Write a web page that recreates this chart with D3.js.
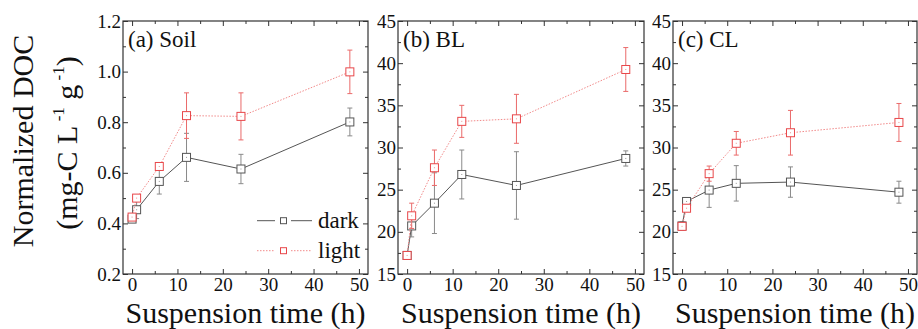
<!DOCTYPE html>
<html>
<head>
<meta charset="utf-8">
<script src="https://cdn.jsdelivr.net/npm/d3@7"></script>
<style>
  body { margin: 0; background: #fff; }
  svg { display: block; font-family: "Liberation Serif", "Times New Roman", serif; }
  .tick text { font-size: 19px; fill: #111; }
  .tick line { stroke: #333; }
</style>
</head>
<body>
<div id="chart"></div>
<script>
// sampling times (h)
const times = [0, 1, 6, 12, 24, 48];
const panelTitles = ["(a) Soil", "(b) BL", "(c) CL"];
const seriesNames = ["dark", "light"];

// normalized DOC
const soilDark = [0.417, 0.454, 0.566, 0.661, 0.615, 0.801];
const soilDarkErr = [0.01, 0.035, 0.05, 0.095, 0.058, 0.055];
const soilLight = [0.425, 0.5, 0.625, 0.826, 0.823, 0.999];
const soilLightErr = [0.01, 0.012, 0.015, 0.09, 0.093, 0.086];

const blDark = [17.2, 20.7, 23.4, 26.8, 25.5, 28.7];
const blDarkErr = [0.2, 1.3, 3.6, 2.9, 4.0, 0.9];
const blLight = [17.2, 21.9, 27.6, 33.1, 33.4, 39.25];
const blLightErr = [0.2, 1.5, 2.1, 1.9, 2.9, 2.6];

const clDark = [20.7, 23.6, 24.95, 25.75, 25.9, 24.7];
const clDarkErr = [0.5, 0.3, 2.05, 2.1, 1.8, 1.3];
const clLight = [20.65, 22.8, 26.9, 30.5, 31.75, 32.97];
const clLightErr = [0.3, 0.4, 0.9, 1.4, 2.65, 2.25];

// tick labels
const timeTicks = [0, 10, 20, 30, 40, 50];
const timeMinor = [5, 15, 25, 35, 45];
const soilTicks = [0.2, 0.4, 0.6, 0.8, 1.0, 1.2];
const soilMinor = [0.3, 0.5, 0.7, 0.9, 1.1];
const docTicks = [15, 20, 25, 30, 35, 40, 45];
const docMinor = [17.5, 22.5, 27.5, 32.5, 37.5, 42.5];

const W = 918, H = 329;
const plotTop = 21, plotBottom = 274;

const panels = [
  { title: panelTitles[0], x0: 123, x1: 368, domain: [0.2, 1.2], ticks: soilTicks, minor: soilMinor, fmt: d3.format(".1f"),
    dark: soilDark, darkErr: soilDarkErr, light: soilLight, lightErr: soilLightErr, legend: true },
  { title: panelTitles[1], x0: 398, x1: 644, domain: [15, 45], ticks: docTicks, minor: docMinor, fmt: d3.format("d"),
    dark: blDark, darkErr: blDarkErr, light: blLight, lightErr: blLightErr },
  { title: panelTitles[2], x0: 673, x1: 917, domain: [15, 45], ticks: docTicks, minor: docMinor, fmt: d3.format("d"),
    dark: clDark, darkErr: clDarkErr, light: clLight, lightErr: clLightErr }
];

const style = {
  dark: { line: "#555", dash: null, marker: "#555", err: "#8a8a8a" },
  light: { line: "#f28a8a", dash: "1.5,1.5", marker: "#e8474a", err: "#ea6a6a" }
};

const svg = d3.select("#chart").append("svg")
  .attr("width", W).attr("height", H);

panels.forEach(p => {
  const x = d3.scaleLinear().domain([-2, 52]).range([p.x0, p.x1]);
  const y = d3.scaleLinear().domain(p.domain).range([plotBottom, plotTop]);
  const g = svg.append("g");

  // axes: major + minor ticks on all four sides, pointing inward
  g.append("g").attr("transform", `translate(0,${plotBottom})`)
    .call(d3.axisBottom(x).tickValues(timeTicks).tickSize(-5).tickPadding(4))
    .call(a => a.select(".domain").remove());
  g.append("g").attr("transform", `translate(0,${plotBottom})`)
    .call(d3.axisBottom(x).tickValues(timeMinor).tickSize(-3).tickFormat(""))
    .call(a => a.select(".domain").remove());
  g.append("g").attr("transform", `translate(0,${plotTop})`)
    .call(d3.axisTop(x).tickValues(timeTicks).tickSize(-5).tickFormat(""))
    .call(a => a.select(".domain").remove());
  g.append("g").attr("transform", `translate(0,${plotTop})`)
    .call(d3.axisTop(x).tickValues(timeMinor).tickSize(-3).tickFormat(""))
    .call(a => a.select(".domain").remove());

  g.append("g").attr("transform", `translate(${p.x0},0)`)
    .call(d3.axisLeft(y).tickValues(p.ticks).tickSize(-5).tickPadding(2).tickFormat(p.fmt))
    .call(a => a.select(".domain").remove());
  g.append("g").attr("transform", `translate(${p.x0},0)`)
    .call(d3.axisLeft(y).tickValues(p.minor).tickSize(-3).tickFormat(""))
    .call(a => a.select(".domain").remove());
  g.append("g").attr("transform", `translate(${p.x1},0)`)
    .call(d3.axisRight(y).tickValues(p.ticks).tickSize(-5).tickFormat(""))
    .call(a => a.select(".domain").remove());
  g.append("g").attr("transform", `translate(${p.x1},0)`)
    .call(d3.axisRight(y).tickValues(p.minor).tickSize(-3).tickFormat(""))
    .call(a => a.select(".domain").remove());

  g.selectAll(".tick text").attr("font-family", "Liberation Serif");

  // frame
  g.append("rect")
    .attr("x", p.x0).attr("y", plotTop)
    .attr("width", p.x1 - p.x0).attr("height", plotBottom - plotTop)
    .attr("fill", "none").attr("stroke", "#333").attr("stroke-width", 1.2);

  // panel label
  g.append("text")
    .attr("x", p.x0 + 5).attr("y", 47)
    .attr("font-size", 23).attr("fill", "#111")
    .text(p.title);

  seriesNames.forEach(name => {
    const vals = p[name], errs = p[name + "Err"], s = style[name];
    const pts = times.map((t, i) => ({ t: t, v: vals[i], e: errs[i] }));

    // error bars
    const eb = g.append("g").attr("stroke", s.err).attr("stroke-width", 1);
    eb.selectAll(".ev").data(pts).join("line")
      .attr("x1", d => x(d.t)).attr("x2", d => x(d.t))
      .attr("y1", d => y(d.v - d.e)).attr("y2", d => y(d.v + d.e));
    eb.selectAll(".eh").data(pts.flatMap(d => [d.v - d.e, d.v + d.e].map(v => ({ t: d.t, v: v })))).join("line")
      .attr("x1", d => x(d.t) - 2.5).attr("x2", d => x(d.t) + 2.5)
      .attr("y1", d => y(d.v)).attr("y2", d => y(d.v));

    // connecting line
    g.append("path").datum(pts)
      .attr("fill", "none")
      .attr("stroke", s.line).attr("stroke-width", 1)
      .attr("stroke-dasharray", s.dash)
      .attr("d", d3.line().x(d => x(d.t)).y(d => y(d.v)));

    // open square markers
    g.selectAll(null).data(pts).join("rect")
      .attr("x", d => x(d.t) - 4).attr("y", d => y(d.v) - 4)
      .attr("width", 8).attr("height", 8)
      .attr("fill", "#fff").attr("stroke", s.marker).attr("stroke-width", 1);
    g.selectAll(null).data(pts).join("rect")
      .attr("x", d => x(d.t) - 0.5).attr("y", d => y(d.v) - 0.5)
      .attr("width", 1).attr("height", 1)
      .attr("fill", s.marker).attr("opacity", 0.6);
  });

  if (p.legend) {
    const lg = g.append("g");
    seriesNames.forEach((name, i) => {
      const s = style[name];
      const ly = 220.7 + i * 30;
      [[257, 275], [291, 312]].forEach(seg => {
        lg.append("line")
          .attr("x1", seg[0]).attr("x2", seg[1]).attr("y1", ly).attr("y2", ly)
          .attr("stroke", s.line).attr("stroke-width", 1)
          .attr("stroke-dasharray", s.dash);
      });
      lg.append("rect")
        .attr("x", 280.5).attr("y", ly - 3).attr("width", 6).attr("height", 6)
        .attr("fill", "#fff").attr("stroke", s.marker).attr("stroke-width", 1);
      lg.append("text")
        .attr("x", 318).attr("y", ly + 7.5)
        .attr("font-size", 23).attr("fill", "#111")
        .text(name);
    });
  }

  // x axis title
  g.append("text")
    .attr("x", (p.x0 + p.x1) / 2).attr("y", 323)
    .attr("text-anchor", "middle")
    .attr("font-size", 30).attr("fill", "#111")
    .text("Suspension time (h)");
});

// y axis title, two lines
const yt = svg.append("g").attr("transform", "translate(33,141) rotate(-90)");
yt.append("text")
  .attr("text-anchor", "middle")
  .attr("font-size", 30).attr("fill", "#111")
  .text("Normalized DOC");
const yt2 = svg.append("g").attr("transform", "translate(77,143) rotate(-90)")
  .append("text")
  .attr("text-anchor", "middle")
  .attr("font-size", 30).attr("fill", "#111");
yt2.append("tspan").text("(mg-C L");
yt2.append("tspan").attr("font-size", 17).attr("dy", -13).text(" -1");
yt2.append("tspan").attr("dy", 13).text(" g");
yt2.append("tspan").attr("font-size", 17).attr("dy", -13).text(" -1");
yt2.append("tspan").attr("dy", 13).text(")");
</script>
</body>
</html>
